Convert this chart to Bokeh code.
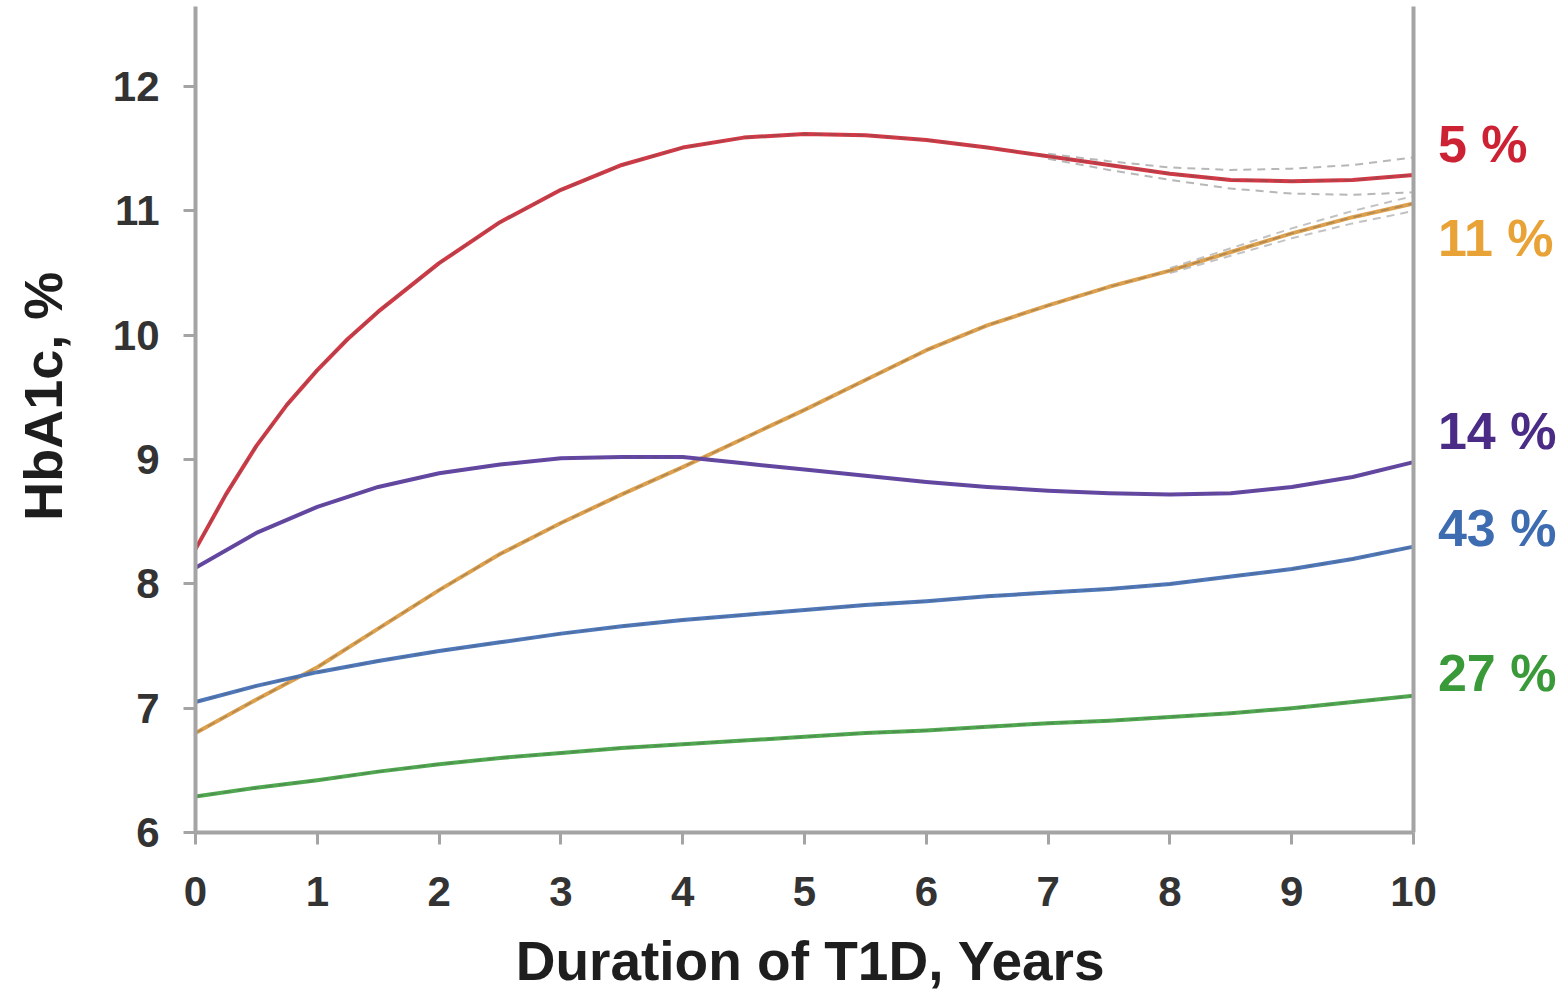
import math
from bokeh.plotting import figure
from bokeh.models import Range1d, FixedTicker, LinearAxis
from bokeh.core.properties import value
from bokeh.embed import file_html
from bokeh.resources import INLINE

# ---- data ----
years = [0, 0.5, 1, 1.5, 2, 2.5, 3, 3.5, 4, 4.5, 5, 5.5, 6, 6.5, 7, 7.5, 8, 8.5, 9, 9.5, 10]

red_years = [0, 0.25, 0.5, 0.75, 1, 1.25, 1.5, 2, 2.5, 3, 3.5, 4, 4.5, 5,
             5.5, 6, 6.5, 7, 7.5, 8, 8.5, 9, 9.5, 10]
red = [8.28, 8.72, 9.11, 9.44, 9.72, 9.97, 10.19, 10.58, 10.91, 11.17, 11.37, 11.51, 11.59,
       11.62, 11.61, 11.57, 11.51, 11.44, 11.37, 11.30, 11.25, 11.24, 11.25, 11.29]
orange = [6.80, 7.07, 7.33, 7.64, 7.95, 8.24, 8.49, 8.72, 8.94, 9.17, 9.40,
          9.64, 9.88, 10.08, 10.24, 10.39, 10.52, 10.67, 10.82, 10.95, 11.06]
purple = [8.13, 8.41, 8.62, 8.78, 8.89, 8.96, 9.01, 9.02, 9.02, 8.97, 8.92,
          8.87, 8.82, 8.78, 8.75, 8.73, 8.72, 8.73, 8.78, 8.86, 8.98]
blue = [7.05, 7.18, 7.29, 7.38, 7.46, 7.53, 7.60, 7.66, 7.71, 7.75, 7.79,
        7.83, 7.86, 7.90, 7.93, 7.96, 8.00, 8.06, 8.12, 8.20, 8.30]
green = [6.29, 6.36, 6.42, 6.49, 6.55, 6.60, 6.64, 6.68, 6.71, 6.74, 6.77,
         6.80, 6.82, 6.85, 6.88, 6.90, 6.93, 6.96, 7.00, 7.05, 7.10]

# confidence bands near the right end
ci_years = [7, 7.5, 8, 8.5, 9, 9.5, 10]
red_ci_upper = [11.46, 11.40, 11.35, 11.33, 11.34, 11.37, 11.43]
red_ci_lower = [11.42, 11.33, 11.25, 11.18, 11.14, 11.13, 11.15]
orange_ci_years = [8, 8.5, 9, 9.5, 10]
orange_ci_upper = [10.54, 10.70, 10.86, 11.00, 11.12]
orange_ci_lower = [10.50, 10.64, 10.78, 10.90, 11.00]

labels = ["5 %", "11 %", "14 %", "43 %", "27 %"]
label_y = [11.54, 10.78, 9.23, 8.45, 7.28]

x_ticks = [0, 1, 2, 3, 4, 5, 6, 7, 8, 9, 10]
y_ticks = [6, 7, 8, 9, 10, 11, 12]

x_title = "Duration of T1D, Years"
y_title = "HbA1c, %"

# ---- styles ----
line_colors = ["#d03a46", "#dca04e", "#6446a6", "#4f78ba", "#4fa84f"]
label_colors = ["#cc2233", "#e8a236", "#4a2c86", "#3e6cb0", "#3a9a3a"]
FONT = "Liberation Sans"
AXIS_GRAY = "#a4a4a4"
Y_TOP = 12.645

p = figure(width=1562, height=997, output_backend="svg", toolbar_location=None,
           x_range=Range1d(-1.601, 11.223), y_range=Range1d(4.673, 12.693),
           min_border_left=0, min_border_right=0, min_border_top=0,
           min_border_bottom=0)
p.outline_line_color = None
p.xgrid.visible = False
p.ygrid.visible = False
p.background_fill_color = "white"
p.border_fill_color = "white"

# curves
series_x = [red_years, years, years, years, years]
series = [red, orange, purple, blue, green]
for xs, ys, c in zip(series_x, series, line_colors):
    p.line(xs, ys, line_color=c, line_width=4, line_join="round")
    p.line(xs, ys, line_color="#555555", line_alpha=0.35, line_width=1.5,
           line_dash="8 6")

for ys in [red_ci_upper, red_ci_lower]:
    p.line(ci_years, ys, line_color="#999999", line_alpha=0.7, line_width=2,
           line_dash="8 6")
for ys in [orange_ci_upper, orange_ci_lower]:
    p.line(orange_ci_years, ys, line_color="#999999", line_alpha=0.6, line_width=2,
           line_dash="8 6")

# axes drawn at fixed data locations
for ax in [p.xaxis[0], p.yaxis[0]]:
    ax.axis_line_color = AXIS_GRAY
    ax.axis_line_width = 4
    ax.major_tick_line_color = AXIS_GRAY
    ax.major_tick_line_width = 3
    ax.major_tick_in = 0
    ax.major_tick_out = 12
    ax.minor_tick_line_color = None
    ax.major_label_text_font = FONT
    ax.major_label_text_font_style = "bold"
    ax.major_label_text_font_size = "42px"
    ax.major_label_text_color = "#333333"

p.xaxis.ticker = FixedTicker(ticks=x_ticks)
p.yaxis.ticker = FixedTicker(ticks=y_ticks)
p.xaxis.fixed_location = 6
p.yaxis.fixed_location = 0
p.xaxis.bounds = (0, 10)
p.yaxis.bounds = (6, Y_TOP)
p.xaxis.major_label_standoff = 32
p.yaxis.major_label_standoff = 24

# right vertical line (axis without ticks)
right = LinearAxis(ticker=FixedTicker(ticks=[]), axis_line_color=AXIS_GRAY,
                   axis_line_width=4, major_tick_line_color=None,
                   minor_tick_line_color=None, fixed_location=10, bounds=(6, Y_TOP))
p.add_layout(right, "right")

# percentage labels
p.text(x=[10.2] * len(labels), y=label_y, text=labels, text_color=label_colors,
       text_font=value(FONT), text_font_style="bold", text_font_size="52px",
       text_align="left", text_baseline="middle")

# axis titles
p.text(x=[5.05], y=[4.97], text=[x_title], text_font=value(FONT), text_font_style="bold",
       text_font_size="55px", text_color="#1e1e1e", text_align="center",
       text_baseline="middle")
p.text(x=[-1.248], y=[9.51], text=[y_title], text_font=value(FONT),
       text_font_style="bold", text_font_size="54px", text_color="#1e1e1e",
       angle=math.pi / 2, text_align="center", text_baseline="middle")

open("out.html", "w").write(file_html(p, INLINE))
